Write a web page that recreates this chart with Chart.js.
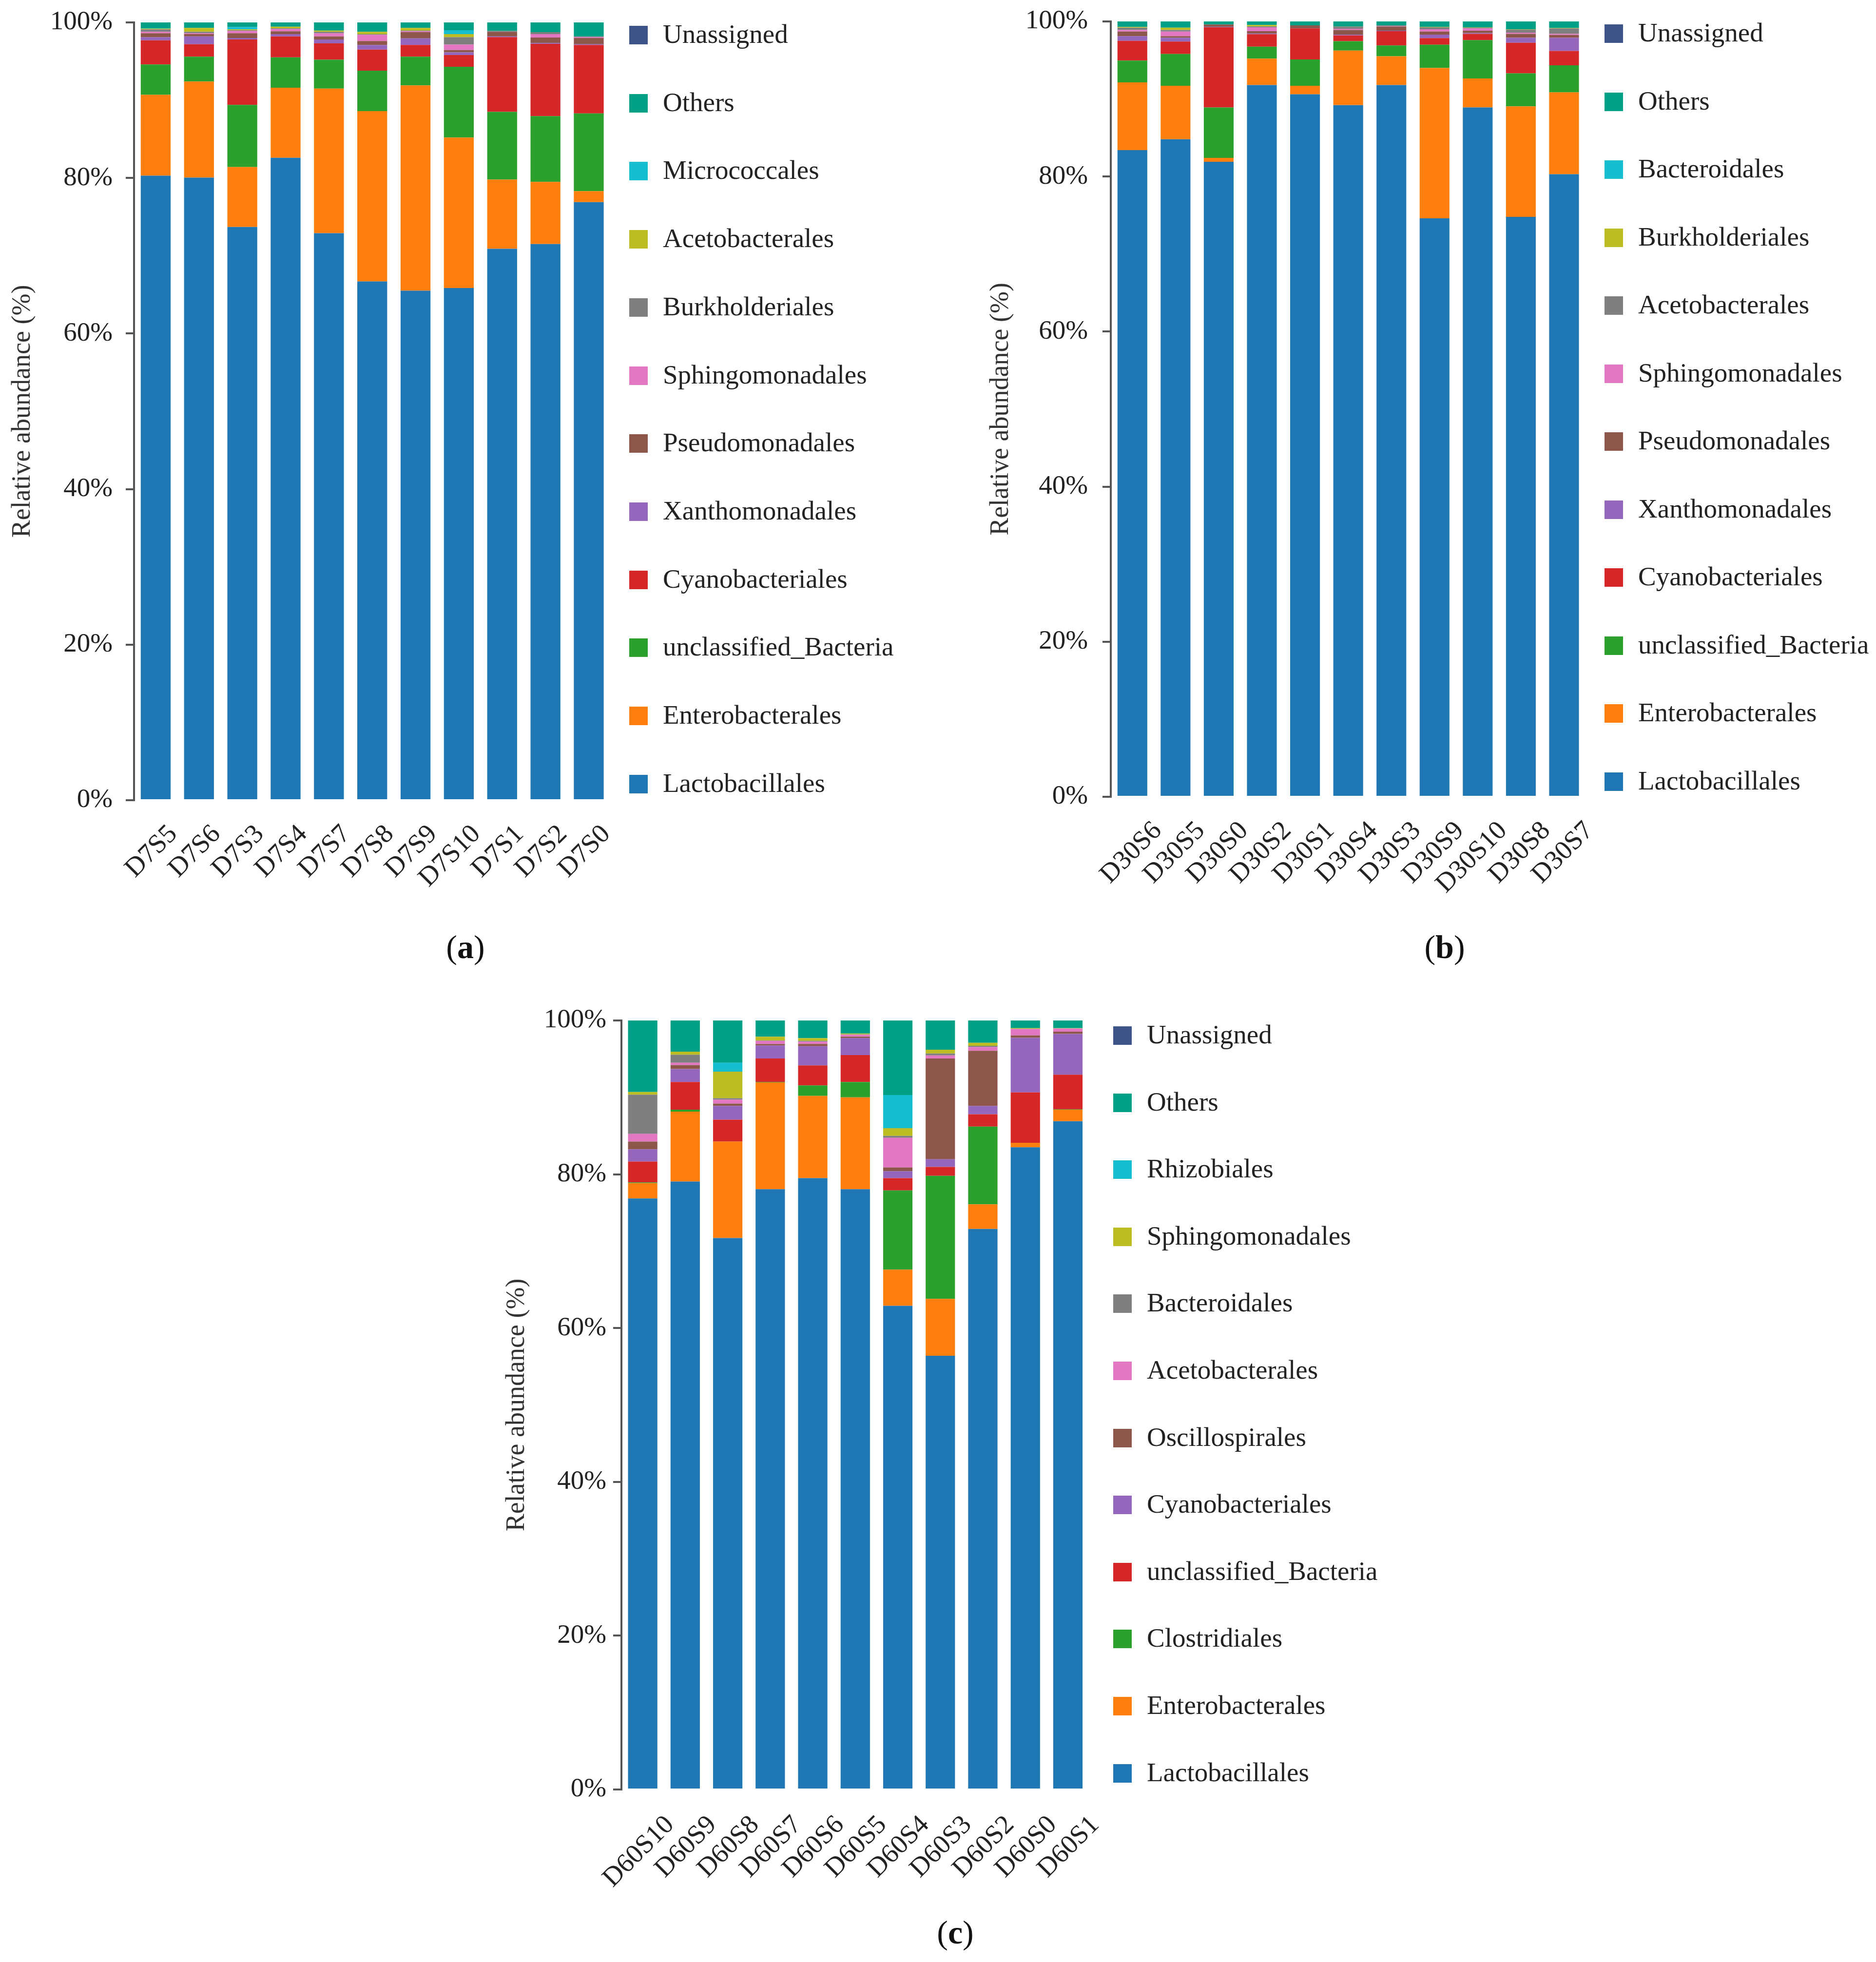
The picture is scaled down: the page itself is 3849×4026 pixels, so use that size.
<!DOCTYPE html>
<html>
<head>
<meta charset="utf-8">
<script src="https://cdn.jsdelivr.net/npm/chart.js@4.4.1/dist/chart.umd.min.js"></script>
<style>
  html, body { margin: 0; padding: 0; background: #ffffff; }
  body { width: 3849px; height: 4026px; position: relative; overflow: hidden;
         font-family: "Liberation Serif", "Times New Roman", serif; color: #222; }
  canvas { position: absolute; }
  .lg-box { position: absolute; width: 38px; height: 38px; }
  .lg-text { position: absolute; font-size: 55px; line-height: 64px; white-space: nowrap; color: #222; }
  .plabel { position: absolute; font-size: 68px; transform: translate(-50%, -50%); color: #111; white-space: nowrap; }
</style>
</head>
<body>
<canvas id="chartA"></canvas>
<canvas id="chartB"></canvas>
<canvas id="chartC"></canvas>
<div id="legends"></div>
<div class="plabel" style="left:955px;top:1943px;">(<b>a</b>)</div>
<div class="plabel" style="left:2964px;top:1943px;">(<b>b</b>)</div>
<div class="plabel" style="left:1960px;top:3965px;">(<b>c</b>)</div>
<script>
// ---------- shared ----------
const yTicks = [0, 20, 40, 60, 80, 100];
const palette = ['#1f77b4', '#ff7f0e', '#2ca02c', '#d62728', '#9467bd', '#8c564b',
                 '#e377c2', '#7f7f7f', '#bcbd22', '#17becf', '#00a087', '#3c5488'];

// ---------- panel (a) ----------
const catsA = ['D7S5', 'D7S6', 'D7S3', 'D7S4', 'D7S7', 'D7S8', 'D7S9', 'D7S10', 'D7S1', 'D7S2', 'D7S0'];
const namesA = ['Lactobacillales', 'Enterobacterales', 'unclassified_Bacteria', 'Cyanobacteriales',
                'Xanthomonadales', 'Pseudomonadales', 'Sphingomonadales', 'Burkholderiales',
                'Acetobacterales', 'Micrococcales', 'Others', 'Unassigned'];
const a_Lactobacillales  = [80.3, 80.05, 73.7, 82.6, 72.9, 66.7, 65.5, 65.85, 70.9, 71.5, 76.9];
const a_Enterobacterales = [10.4, 12.35, 7.7, 9.0, 18.6, 21.9, 26.4, 19.35, 8.9, 8.0, 1.4];
const a_unclassified     = [3.9, 3.2, 8.0, 3.9, 3.7, 5.2, 3.7, 9.1, 8.7, 8.45, 10.0];
const a_Cyanobacteriales = [3.1, 1.6, 8.4, 2.7, 2.1, 2.7, 1.5, 1.5, 9.6, 9.3, 8.8];
const a_Xanthomonadales  = [0.4, 1.0, 0.2, 0.3, 0.5, 0.6, 0.85, 0.35, 0.1, 0.1, 0.1];
const a_Pseudomonadales  = [0.5, 0.3, 0.6, 0.35, 0.4, 0.5, 0.8, 0.3, 0.6, 0.7, 0.8];
const a_Sphingomonadales = [0.2, 0.1, 0.3, 0.3, 0.4, 0.8, 0.1, 0.7, 0.0, 0.45, 0.1];
const a_Burkholderiales  = [0.3, 0.2, 0.1, 0.1, 0.2, 0.1, 0.1, 0.95, 0.1, 0.25, 0.1];
const a_Acetobacterales  = [0.1, 0.5, 0.1, 0.2, 0.15, 0.3, 0.35, 0.4, 0.0, 0.0, 0.0];
const a_Micrococcales    = [0.05, 0.0, 0.3, 0.0, 0.0, 0.0, 0.0, 0.5, 0.0, 0.0, 0.0];
const a_Others           = [0.75, 0.7, 0.6, 0.55, 1.05, 1.2, 0.7, 1.0, 1.1, 1.25, 1.8];
const a_Unassigned       = [0, 0, 0, 0, 0, 0, 0, 0, 0, 0, 0];

// ---------- panel (b) ----------
const catsB = ['D30S6', 'D30S5', 'D30S0', 'D30S2', 'D30S1', 'D30S4', 'D30S3', 'D30S9', 'D30S10', 'D30S8', 'D30S7'];
const namesB = ['Lactobacillales', 'Enterobacterales', 'unclassified_Bacteria', 'Cyanobacteriales',
                'Xanthomonadales', 'Pseudomonadales', 'Sphingomonadales', 'Acetobacterales',
                'Burkholderiales', 'Bacteroidales', 'Others', 'Unassigned'];
const b_Lactobacillales  = [83.4, 84.8, 81.9, 91.8, 90.6, 89.2, 91.8, 74.6, 88.9, 74.8, 80.3];
const b_Enterobacterales = [8.75, 6.9, 0.5, 3.4, 1.1, 7.05, 3.7, 19.4, 3.75, 14.25, 10.55];
const b_unclassified     = [2.8, 4.1, 6.5, 1.55, 3.4, 1.2, 1.4, 3.0, 4.95, 4.25, 3.5];
const b_Cyanobacteriales = [2.55, 1.6, 10.35, 1.6, 4.0, 0.75, 1.85, 0.85, 0.8, 3.95, 1.85];
const b_Xanthomonadales  = [0.6, 0.5, 0.05, 0.1, 0.0, 0.1, 0.05, 0.45, 0.1, 0.65, 1.7];
const b_Pseudomonadales  = [0.6, 0.2, 0.3, 0.3, 0.4, 0.6, 0.55, 0.4, 0.3, 0.5, 0.35];
const b_Sphingomonadales = [0.2, 0.6, 0.0, 0.5, 0.0, 0.15, 0.05, 0.3, 0.3, 0.15, 0.15];
const b_Acetobacterales  = [0.3, 0.2, 0.0, 0.1, 0.0, 0.3, 0.1, 0.25, 0.1, 0.4, 0.7];
const b_Burkholderiales  = [0.1, 0.3, 0.0, 0.2, 0.0, 0.0, 0.0, 0.05, 0.05, 0.05, 0.05];
const b_Bacteroidales    = [0, 0, 0, 0, 0, 0, 0, 0, 0, 0, 0];
const b_Others           = [0.7, 0.8, 0.4, 0.45, 0.5, 0.65, 0.5, 0.7, 0.75, 1.0, 0.85];
const b_Unassigned       = [0, 0, 0, 0, 0, 0, 0, 0, 0, 0, 0];

// ---------- panel (c) ----------
const catsC = ['D60S10', 'D60S9', 'D60S8', 'D60S7', 'D60S6', 'D60S5', 'D60S4', 'D60S3', 'D60S2', 'D60S0', 'D60S1'];
const namesC = ['Lactobacillales', 'Enterobacterales', 'Clostridiales', 'unclassified_Bacteria',
                'Cyanobacteriales', 'Oscillospirales', 'Acetobacterales', 'Bacteroidales',
                'Sphingomonadales', 'Rhizobiales', 'Others', 'Unassigned'];
const c_Lactobacillales  = [76.85, 79.05, 71.7, 78.05, 79.5, 78.05, 62.9, 56.4, 72.9, 83.5, 86.9];
const c_Enterobacterales = [2.0, 9.1, 12.55, 13.9, 10.7, 11.95, 4.7, 7.4, 3.2, 0.6, 1.5];
const c_Clostridiales    = [0.1, 0.25, 0.0, 0.05, 1.35, 2.0, 10.3, 16.0, 10.1, 0.0, 0.05];
const c_unclassified     = [2.7, 3.6, 2.85, 3.05, 2.6, 3.5, 1.6, 1.15, 1.6, 6.55, 4.5];
const c_Cyanobacteriales = [1.6, 1.7, 1.8, 1.7, 2.5, 2.2, 0.9, 1.0, 1.1, 7.1, 5.3];
const c_Oscillospirales  = [1.0, 0.5, 0.3, 0.2, 0.3, 0.2, 0.5, 13.1, 7.15, 0.3, 0.3];
const c_Acetobacterales  = [1.0, 0.3, 0.5, 0.4, 0.3, 0.25, 3.85, 0.4, 0.5, 0.85, 0.4];
const c_Bacteroidales    = [5.1, 1.05, 0.2, 0.05, 0.1, 0.05, 0.25, 0.25, 0.15, 0.0, 0.0];
const c_Sphingomonadales = [0.35, 0.4, 3.45, 0.5, 0.35, 0.1, 1.0, 0.5, 0.4, 0.1, 0.05];
const c_Rhizobiales      = [0.0, 0.0, 1.15, 0.0, 0.0, 0.0, 4.3, 0.0, 0.0, 0.0, 0.0];
const c_Others           = [9.3, 4.05, 5.5, 2.1, 2.3, 1.7, 9.7, 3.8, 2.9, 1.0, 1.0];
const c_Unassigned       = [0, 0, 0, 0, 0, 0, 0, 0, 0, 0, 0];

const seriesA = [a_Lactobacillales, a_Enterobacterales, a_unclassified, a_Cyanobacteriales, a_Xanthomonadales,
  a_Pseudomonadales, a_Sphingomonadales, a_Burkholderiales, a_Acetobacterales, a_Micrococcales, a_Others, a_Unassigned];
const seriesB = [b_Lactobacillales, b_Enterobacterales, b_unclassified, b_Cyanobacteriales, b_Xanthomonadales,
  b_Pseudomonadales, b_Sphingomonadales, b_Acetobacterales, b_Burkholderiales, b_Bacteroidales, b_Others, b_Unassigned];
const seriesC = [c_Lactobacillales, c_Enterobacterales, c_Clostridiales, c_unclassified, c_Cyanobacteriales,
  c_Oscillospirales, c_Acetobacterales, c_Bacteroidales, c_Sphingomonadales, c_Rhizobiales, c_Others, c_Unassigned];

// ---------- drawing ----------
Chart.defaults.font.family = "'Liberation Serif', 'Times New Roman', serif";
Chart.defaults.color = '#222';

const Y_AXIS_W = 275, PAD_TOP = 60, X_AXIS_H = 270, PAD_RIGHT = 8;

function makePanel(id, cats, names, series, g) {
  const cv = document.getElementById(id);
  const w = Y_AXIS_W + g.plotW + PAD_RIGHT;
  const h = PAD_TOP + g.plotH + X_AXIS_H;
  cv.width = w; cv.height = h;
  cv.style.width = w + 'px'; cv.style.height = h + 'px';
  cv.style.left = (g.axisX - Y_AXIS_W) + 'px';
  cv.style.top = (g.plotTop - PAD_TOP) + 'px';

  new Chart(cv, {
    type: 'bar',
    data: {
      labels: cats,
      datasets: series.map((vals, i) => ({
        label: names[i],
        data: vals,
        backgroundColor: palette[i],
        borderWidth: 0,
        barPercentage: 0.69,
        categoryPercentage: 1.0
      }))
    },
    options: {
      responsive: false,
      animation: false,
      devicePixelRatio: 1,
      layout: { padding: { top: PAD_TOP, right: PAD_RIGHT, left: 0, bottom: 0 } },
      plugins: { legend: { display: false }, tooltip: { enabled: false } },
      scales: {
        x: {
          stacked: true,
          grid: { display: false },
          border: { display: false },
          ticks: {
            font: { size: 55 }, color: '#222',
            maxRotation: 45, minRotation: 45, autoSkip: false,
            padding: g.xPad, labelOffset: g.xOff
          },
          afterFit: (s) => { s.height = X_AXIS_H; }
        },
        y: {
          stacked: true,
          min: 0, max: 100,
          afterBuildTicks: (s) => { s.ticks = yTicks.map(v => ({ value: v })); },
          ticks: {
            font: { size: 55 }, color: '#222', padding: g.tickPad,
            callback: (v) => v + '%'
          },
          grid: { drawOnChartArea: false, drawTicks: true, tickLength: 17, color: '#555', lineWidth: 4 },
          border: { display: true, color: '#555', width: 4 },
          title: {
            display: true, text: 'Relative abundance (%)',
            font: { size: 54 }, color: '#333', padding: { top: g.titlePad, bottom: 0 }
          },
          afterFit: (s) => { s.width = Y_AXIS_W; }
        }
      }
    }
  });

  // legend (top item = last series)
  const host = document.getElementById('legends');
  const order = names.map((n, i) => i).reverse();
  order.forEach((idx, k) => {
    const cy = g.legTop + k * g.legStep;
    const box = document.createElement('div');
    box.className = 'lg-box';
    box.style.left = g.legBoxX + 'px';
    box.style.top = (cy - 19) + 'px';
    box.style.background = palette[idx];
    host.appendChild(box);
    const t = document.createElement('div');
    t.className = 'lg-text';
    t.style.left = (g.legBoxX + 69) + 'px';
    t.style.top = (cy - 34) + 'px';
    t.textContent = names[idx];
    host.appendChild(t);
  });
}

makePanel('chartA', catsA, namesA, seriesA,
  { axisX: 275, plotTop: 46, plotW: 1002, plotH: 1596, tickPad: 27, titlePad: 14,
    xPad: 30, xOff: 36, legBoxX: 1291, legTop: 72, legStep: 139.7 });
makePanel('chartB', catsB, namesB, seriesB,
  { axisX: 2279, plotTop: 41, plotW: 999, plotH: 1594, tickPad: 30, titlePad: 17,
    xPad: 30, xOff: 52, legBoxX: 3292, legTop: 69, legStep: 139.5 });
makePanel('chartC', catsC, namesC, seriesC,
  { axisX: 1275, plotTop: 2094, plotW: 988, plotH: 1578, tickPad: 14, titlePad: 28,
    xPad: 33, xOff: 56, legBoxX: 2284, legTop: 2125, legStep: 137.6 });
</script>
</body>
</html>
